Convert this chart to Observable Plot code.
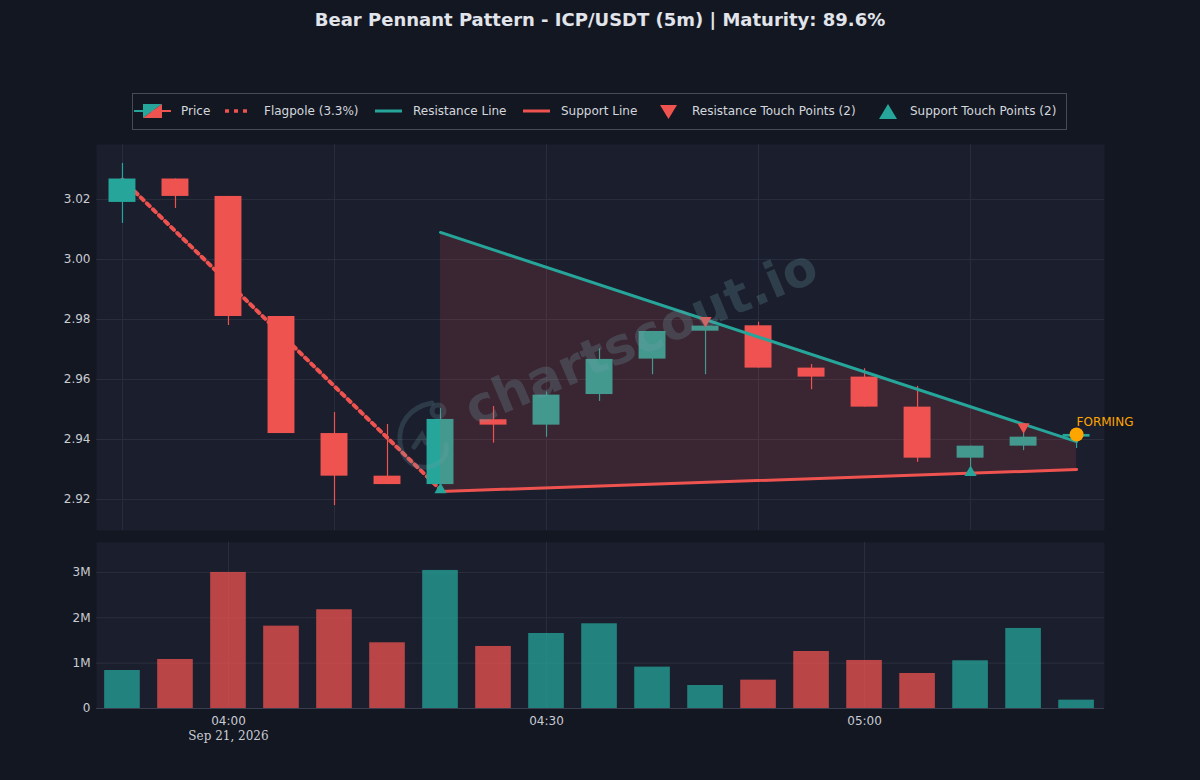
<!DOCTYPE html>
<html>
<head>
<meta charset="utf-8">
<script src="https://cdn.jsdelivr.net/npm/d3@7"></script>
<script src="https://cdn.jsdelivr.net/npm/@observablehq/plot@0.6"></script>
<style>
  html, body { margin: 0; padding: 0; background: #131722; }
  #root { position: relative; width: 1200px; height: 780px; background: #131722; overflow: hidden; font-family: "DejaVu Sans", sans-serif; }
  #title { position: absolute; left: 0; top: 9px; width: 1200px; text-align: center; font-size: 18px; font-weight: bold; color: #e1e4ea; white-space: nowrap; }
  .plotbox { position: absolute; left: 0; }
  #legend { position: absolute; left: 132px; top: 93px; }
  #watermark { position: absolute; left: 641px; top: 337px; transform: translate(-50%, -50%) rotate(-23deg); font-size: 50px; font-weight: bold; color: rgba(112,160,168,0.25); white-space: nowrap; pointer-events: none; letter-spacing: 0.5px; }
  #wmlogo { position: absolute; left: 390px; top: 395px; pointer-events: none; }
</style>
</head>
<body>
<div id="root">
  <div id="title">Bear Pennant Pattern - ICP/USDT (5m) | Maturity: 89.6%</div>
  <div id="legend"></div>
  <div id="price" class="plotbox" style="top:134px"></div>
  <div id="volume" class="plotbox" style="top:532px"></div>
  <svg id="wmlogo" width="70" height="90"><g fill="none" stroke="rgba(112,160,168,0.22)" stroke-width="5" stroke-linecap="round"><path d="M42,8 C20,12 8,28 10,48 C12,66 26,74 38,72 C50,70 58,62 56,50"/><circle cx="48" cy="16" r="6"/><path d="M24,52 L32,40 L36,48"/></g></svg>
  <div id="watermark">chartscout.io</div>
</div>
<script>
// ---------- data ----------
const times  = ["03:50","03:55","04:00","04:05","04:10","04:15","04:20","04:25","04:30","04:35","04:40","04:45","04:50","04:55","05:00","05:05","05:10","05:15","05:20"];
const open   = [3.0190,3.0268,3.0210,2.9810,2.9420,2.9278,2.9250,2.9466,2.9448,2.9550,2.9668,2.9761,2.9779,2.9638,2.9608,2.9508,2.9338,2.9378,2.9408];
const close  = [3.0268,3.0210,2.9810,2.9420,2.9278,2.9250,2.9467,2.9448,2.9548,2.9667,2.9760,2.9778,2.9638,2.9608,2.9508,2.9338,2.9378,2.9408,2.9417];
const high   = [3.0320,3.0268,3.0210,2.9810,2.9490,2.9450,2.9503,2.9510,2.9558,2.9702,2.9760,2.9797,2.9791,2.9650,2.9636,2.9577,2.9378,2.9443,2.9417];
const low    = [3.0120,3.0170,2.9780,2.9420,2.9180,2.9250,2.9233,2.9388,2.9408,2.9527,2.9616,2.9616,2.9638,2.9566,2.9508,2.9324,2.9290,2.9363,2.9370];
const volumeM = [0.838,1.081,3.000,1.816,2.177,1.449,3.044,1.368,1.654,1.868,0.912,0.507,0.625,1.257,1.059,0.772,1.052,1.765,0.184];

const flagTimes  = ["03:50","04:20"];
const flagPrices = [3.0266, 2.9233];
const patternTimes = ["04:20","05:20"];
const resistanceY  = [3.0090, 2.9393];
const supportY     = [2.9227, 2.9300];
const resTouchTimes = ["04:45","05:15"];
const resTouchY     = [2.9797, 2.9443];
const supTouchTimes = ["04:20","05:10"];
const supTouchY     = [2.9233, 2.9290];
const formingTime = "05:20";
const formingPrice = 2.9417;

const priceTicks = [2.92, 2.94, 2.96, 2.98, 3.00, 3.02];
const priceGridTimes = ["03:50","04:10","04:30","04:50","05:10"];
const volumeTicks = [0, 1e6, 2e6, 3e6];
const volumeTickTimes = ["04:00","04:30","05:00"];
const dateLabel = "Sep 21, 2026";
const dateLabelTime = "04:00";

// ---------- helpers ----------
const T = s => new Date(`2026-09-21T${s.length === 5 ? s + ":00" : s}Z`);
const green = "#26a69a", red = "#ef5350";
const bg = "#1a1e2d", grid = "#2a2f3e";
const xDomain = [T("03:47:33"), T("05:22:38")];
const halfBody = 1.27 * 60000, halfBar = 1.68 * 60000;

const candles = times.map((t, i) => ({
  t: T(t), open: open[i], close: close[i], high: high[i], low: low[i],
  volume: volumeM[i] * 1e6, up: close[i] >= open[i]
}));
const flag = flagTimes.map((t, i) => ({t: T(t), p: flagPrices[i]}));
const pattern = patternTimes.map((t, i) => ({t: T(t), res: resistanceY[i], sup: supportY[i]}));
const resTouch = resTouchTimes.map((t, i) => ({t: T(t), p: resTouchY[i]}));
const supTouch = supTouchTimes.map((t, i) => ({t: T(t), p: supTouchY[i]}));
const forming = [{t: T(formingTime), p: formingPrice, label: "FORMING"}];

const commonStyle = {background: "transparent", color: "#c9ccd3", fontSize: "12px", fontFamily: "DejaVu Sans, sans-serif", overflow: "visible"};

// ---------- price panel ----------
const pricePlot = Plot.plot({
  width: 1200, height: 406,
  marginTop: 10, marginBottom: 10, marginLeft: 96, marginRight: 96,
  style: commonStyle,
  color: {type: "identity"},
  x: {type: "utc", domain: xDomain, axis: null},
  y: {domain: [2.9097, 3.0383], ticks: priceTicks, tickFormat: d3.format(".2f"), tickSize: 0, tickPadding: 6, label: null},
  marks: [
    Plot.frame({fill: bg, stroke: null}),
    Plot.ruleY(priceTicks, {stroke: grid, strokeWidth: 1}),
    Plot.ruleX(priceGridTimes.map(T), {stroke: grid, strokeWidth: 1}),
    Plot.line(flag, {x: "t", y: "p", stroke: red, strokeWidth: 4, strokeDasharray: "4,4.5"}),
    Plot.ruleX(candles, {x: "t", y1: "low", y2: "high", stroke: d => d.up ? green : red, strokeWidth: 1.2}),
    Plot.rect(candles, {x1: d => new Date(+d.t - halfBody), x2: d => new Date(+d.t + halfBody), y1: "open", y2: "close", fill: d => d.up ? green : red}),
    Plot.areaY(pattern, {x: "t", y1: "sup", y2: "res", fill: red, fillOpacity: 0.15}),
    Plot.line(pattern, {x: "t", y: "res", stroke: green, strokeWidth: 3}),
    Plot.line(pattern, {x: "t", y: "sup", stroke: red, strokeWidth: 3}),
    Plot.dot(resTouch, {x: "t", y: "p", symbol: "triangle", rotate: 180, r: 4.5, fill: red, stroke: null}),
    Plot.dot(supTouch, {x: "t", y: "p", symbol: "triangle", r: 4.5, fill: green, stroke: null}),
    Plot.dot(forming, {x: "t", y: "p", r: 7, fill: "#ffa500", stroke: null}),
    Plot.text(forming, {x: "t", y: "p", text: "label", textAnchor: "start", dy: -12, fill: "#ffa500", fontSize: 12})
  ]
});
document.getElementById("price").appendChild(pricePlot);

// ---------- volume panel ----------
const volumePlot = Plot.plot({
  width: 1200, height: 226,
  marginTop: 10, marginBottom: 50, marginLeft: 96, marginRight: 96,
  style: commonStyle,
  color: {type: "identity"},
  x: {type: "utc", domain: xDomain, ticks: volumeTickTimes.map(T), tickFormat: d3.utcFormat("%H:%M"), tickSize: 0, tickPadding: 8, label: null},
  y: {domain: [0, 3.66e6], ticks: volumeTicks, tickFormat: d => d === 0 ? "0" : (d / 1e6) + "M", tickSize: 0, tickPadding: 6, label: null},
  marks: [
    Plot.frame({fill: bg, stroke: null}),
    Plot.ruleY(volumeTicks.slice(1), {stroke: grid, strokeWidth: 1}),
    Plot.ruleX(volumeTickTimes.map(T), {stroke: grid, strokeWidth: 1}),
    Plot.rect(candles, {x1: d => new Date(+d.t - halfBar), x2: d => new Date(+d.t + halfBar), y1: 0, y2: "volume", fill: d => d.up ? green : red, fillOpacity: 0.75}),
    Plot.ruleY([0], {stroke: "#3a3f4f", strokeWidth: 1}),
    Plot.text([dateLabel], {x: () => T(dateLabelTime), text: d => d, frameAnchor: "bottom", dy: 31, fill: "#c9ccd3", fontSize: 12, fontFamily: "DejaVu Serif, serif"})
  ]
});
document.getElementById("volume").appendChild(volumePlot);

// ---------- legend ----------
const legendItems = [
  {key: "price", label: "Price", iconX: 2, textX: 49},
  {key: "flag", label: "Flagpole (3.3%)", iconX: 93, textX: 132},
  {key: "res", label: "Resistance Line", iconX: 243, textX: 281},
  {key: "sup", label: "Support Line", iconX: 391, textX: 429},
  {key: "resT", label: "Resistance Touch Points (2)", iconX: 528, textX: 560},
  {key: "supT", label: "Support Touch Points (2)", iconX: 747, textX: 778}
];
const W = 935, H = 37, cy = 18;
const svg = d3.select("#legend").append("svg").attr("width", W).attr("height", H);
svg.append("rect").attr("x", 0.5).attr("y", 0.5).attr("width", W - 1).attr("height", H - 1)
  .attr("fill", "#131722").attr("stroke", "#464b58").attr("stroke-width", 1);
for (const it of legendItems) {
  const g = svg.append("g");
  const x = it.iconX;
  if (it.key === "price") {
    g.append("line").attr("x1", x).attr("x2", x + 18).attr("y1", cy).attr("y2", cy).attr("stroke", green).attr("stroke-width", 2);
    g.append("line").attr("x1", x + 18).attr("x2", x + 37).attr("y1", cy).attr("y2", cy).attr("stroke", red).attr("stroke-width", 2);
    g.append("polygon").attr("points", `${x+9},${cy-7} ${x+28},${cy-7} ${x+9},${cy+7}`).attr("fill", green);
    g.append("polygon").attr("points", `${x+28},${cy-7} ${x+28},${cy+7} ${x+9},${cy+7}`).attr("fill", red);
  } else if (it.key === "flag") {
    g.append("line").attr("x1", x).attr("x2", x + 23).attr("y1", cy).attr("y2", cy).attr("stroke", red).attr("stroke-width", 3.5).attr("stroke-dasharray", "4,5");
  } else if (it.key === "res" || it.key === "sup") {
    g.append("line").attr("x1", x).attr("x2", x + 27).attr("y1", cy).attr("y2", cy).attr("stroke", it.key === "res" ? green : red).attr("stroke-width", 3);
  } else if (it.key === "resT") {
    g.append("polygon").attr("points", `${x},${cy-6} ${x+17},${cy-6} ${x+8.5},${cy+8}`).attr("fill", red);
  } else if (it.key === "supT") {
    g.append("polygon").attr("points", `${x},${cy+8} ${x+18},${cy+8} ${x+9},${cy-7}`).attr("fill", green);
  }
  svg.append("text").attr("x", it.textX).attr("y", cy).attr("dy", "0.35em")
    .attr("fill", "#d4d7dd").attr("font-size", 12).attr("font-family", "DejaVu Sans, sans-serif").text(it.label);
}
</script>
</body>
</html>
